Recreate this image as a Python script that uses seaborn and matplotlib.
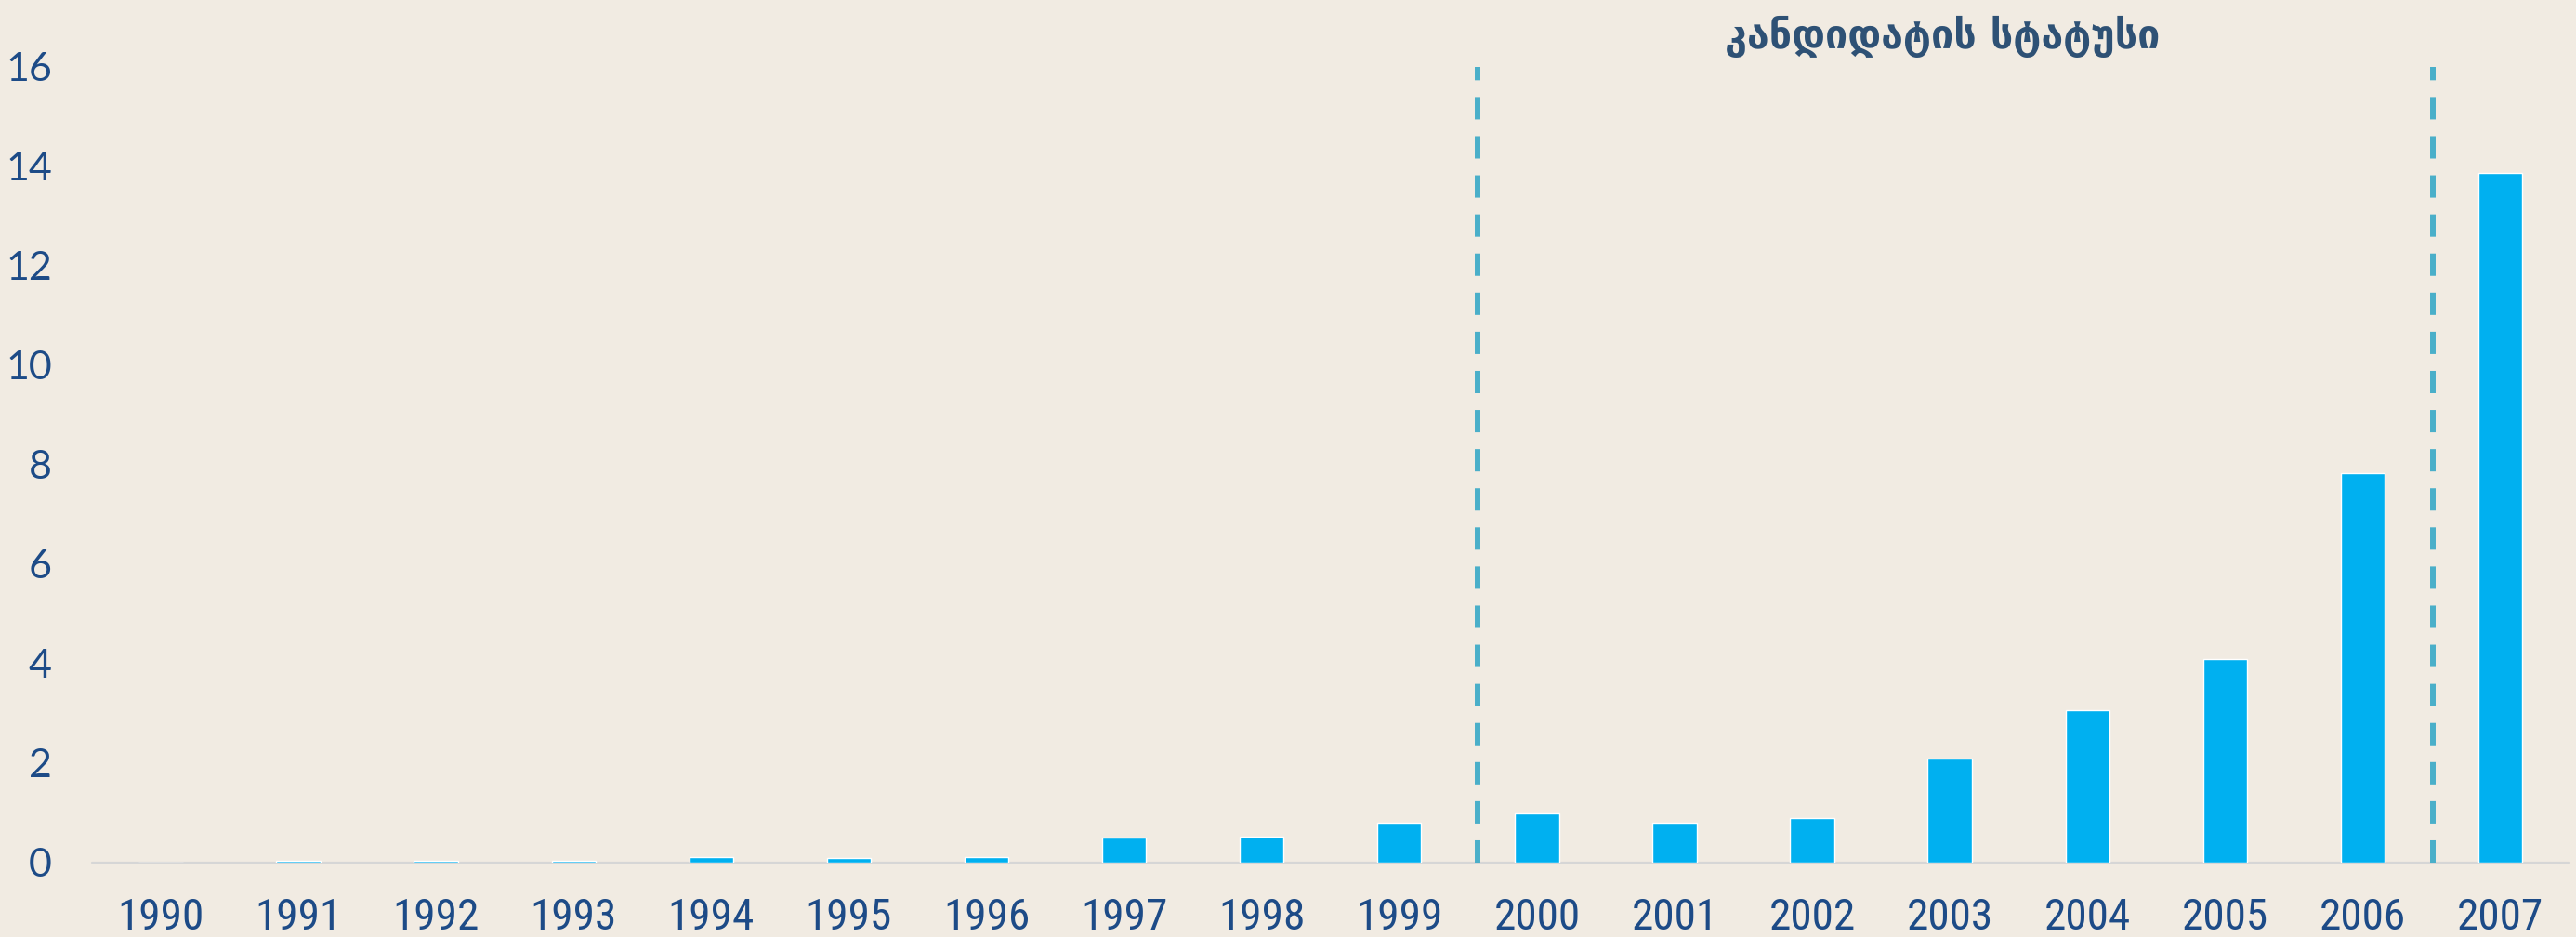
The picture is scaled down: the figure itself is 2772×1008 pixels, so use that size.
import numpy as np
import pandas as pd
import seaborn as sns
import matplotlib.pyplot as plt
from matplotlib import font_manager

# data
years = ['1990', '1991', '1992', '1993', '1994', '1995', '1996', '1997', '1998',
         '1999', '2000', '2001', '2002', '2003', '2004', '2005', '2006', '2007']
values = [0.0, 0.04, 0.03, 0.03, 0.11, 0.09, 0.11, 0.50, 0.53,
          0.81, 0.99, 0.80, 0.89, 2.09, 3.06, 4.09, 7.84, 13.87]
y_ticks = [0, 2, 4, 6, 8, 10, 12, 14, 16]
title_text = 'კანდიდატის სტატუსი'
marker_positions = [9.57, 16.51]

df = pd.DataFrame({'year': years, 'value': values})

bg = '#f1ebe2'
bar_color = '#00b0f0'
label_color = '#1d4b87'

# a narrow face for the year labels, if one is around
installed = {f.name for f in font_manager.fontManager.ttflist}
narrow = [n for n in ['Liberation Sans Narrow', 'Roboto Condensed', 'Open Sans Condensed']
          if n in installed]
x_family = narrow + ['Liberation Sans']

sns.set_style('white')
plt.rcParams['lines.scale_dashes'] = False

fig = plt.figure(figsize=(27.72, 10.08), dpi=100, facecolor=bg)
ax = fig.add_axes([0.0357, 0.0794, 0.9616, 0.8492])
ax.set_facecolor(bg)

sns.barplot(data=df, x='year', y='value', color=bar_color, width=0.32,
            saturation=1, ax=ax, zorder=3)

ax.axhline(0, color='#d6d6d6', lw=1.6, zorder=2, clip_on=False)

for xp in marker_positions:
    ln = ax.axvline(xp, ymin=0, ymax=1, color='#4aafc9', lw=4.3, zorder=4)
    ln.set_dashes([17.3, 13])

ax.set_xlim(-0.5, len(years) - 0.5)
ax.set_ylim(0, 16)
ax.set_yticks(y_ticks)
ax.set_yticklabels([str(t) for t in y_ticks], family=['Lato', 'DejaVu Sans'],
                   fontsize=31, color=label_color)
ax.set_xticks(range(len(years)))
if narrow:
    ax.set_xticklabels(years, family=x_family, fontsize=34, color=label_color)
else:
    ax.set_xticklabels(years, family=['DejaVu Sans'], stretch='condensed',
                       fontsize=31, color=label_color)
ax.tick_params(axis='y', length=0, pad=31)
ax.tick_params(axis='x', length=0, pad=27)
ax.set_xlabel('')
ax.set_ylabel('')
sns.despine(ax=ax, left=True, bottom=True)

fig.text(0.754, 0.961, title_text, ha='center', va='center',
         family=['DejaVu Sans'], fontweight='bold', fontsize=31, color='#2e5175')

fig.savefig('out.png', dpi=100, facecolor=bg)
